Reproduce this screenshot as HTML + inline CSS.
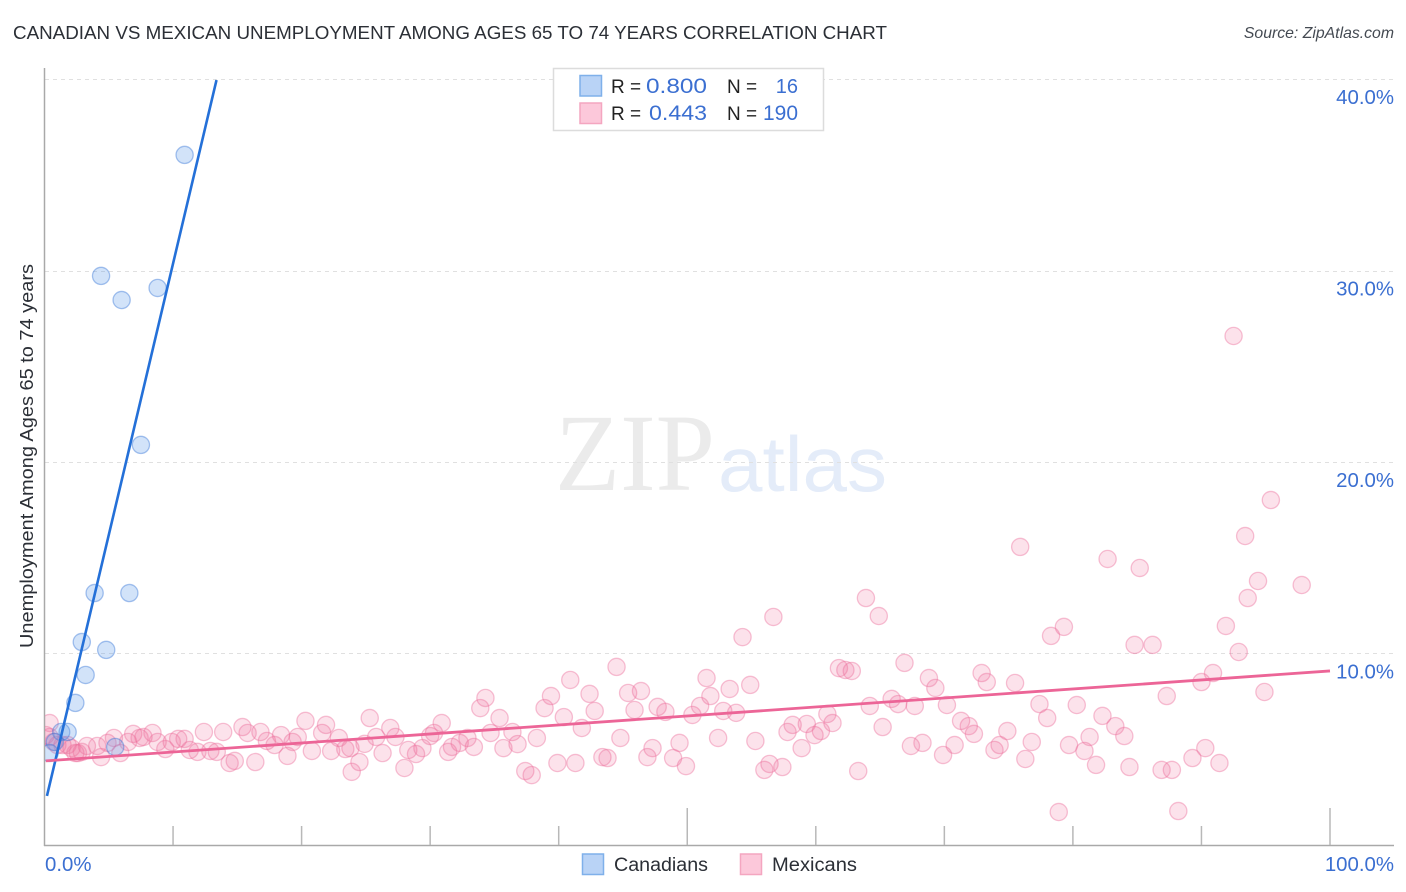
<!DOCTYPE html>
<html lang="en">
<head>
<meta charset="utf-8">
<title>Canadian vs Mexican Unemployment Correlation Chart</title>
<style>
  html, body { margin: 0; padding: 0; background: #fff; }
  #chart { display: block; width: 1406px; height: 892px; font-family: "Liberation Sans", sans-serif; }
  .blue-label { fill: #3b6fd1; }
</style>
</head>
<body>
<svg id="chart" xmlns="http://www.w3.org/2000/svg" width="1406" height="892" viewBox="0 0 1406 892">
  <defs>
    <clipPath id="plot-clip"><rect x="45" y="60" width="1349" height="786"/></clipPath>
  </defs>
  <rect x="0" y="0" width="1406" height="892" fill="#ffffff"/>
  <text x="13" y="39" font-size="18.6" fill="#2b2f36" textLength="874" lengthAdjust="spacingAndGlyphs">CANADIAN VS MEXICAN UNEMPLOYMENT AMONG AGES 65 TO 74 YEARS CORRELATION CHART</text>
  <text x="1394" y="38" font-size="15.8" font-style="italic" fill="#444a52" text-anchor="end">Source: ZipAtlas.com</text>

  <g>
    <text x="555" y="490" font-family="'Liberation Serif', serif" font-size="110" fill="#ebebeb" textLength="160" lengthAdjust="spacingAndGlyphs">ZIP</text>
    <text x="718" y="491" font-size="78" fill="#e4ecf9" textLength="169" lengthAdjust="spacingAndGlyphs">atlas</text>
  </g>

  <g id="grid"></g>
  <g id="axes"></g>
  <g clip-path="url(#plot-clip)">
    <g id="pink-points"></g>
    <g id="blue-points"></g>
  </g>
  <g id="trends"></g>
  <g id="tick-labels"></g>

  <text transform="translate(33,648) rotate(-90)" font-size="18.4" fill="#2b2f36" textLength="384" lengthAdjust="spacingAndGlyphs">Unemployment Among Ages 65 to 74 years</text>

  <g>
    <rect x="553.5" y="68.5" width="270" height="62" fill="#ffffff" stroke="#dcdcdc" stroke-width="1.5"/>
    <rect x="580" y="75.5" width="21.5" height="20.5" fill="#b9d3f6" stroke="#7fb0ea" stroke-width="1.5"/>
    <rect x="580" y="103" width="21.5" height="20.5" fill="#fcc8da" stroke="#f4a6c0" stroke-width="1.5"/>
    <text x="611" y="93" font-size="19" fill="#222">R =</text>
    <text class="blue-label" x="646" y="93" font-size="21" textLength="61" lengthAdjust="spacingAndGlyphs">0.800</text>
    <text x="727" y="93" font-size="19" fill="#222">N =</text>
    <text class="blue-label" x="798" y="93" font-size="20" text-anchor="end">16</text>
    <text x="611" y="120" font-size="19" fill="#222">R =</text>
    <text class="blue-label" x="649" y="120" font-size="21" textLength="58" lengthAdjust="spacingAndGlyphs">0.443</text>
    <text x="727" y="120" font-size="19" fill="#222">N =</text>
    <text class="blue-label" x="798" y="120" font-size="21" text-anchor="end" textLength="35" lengthAdjust="spacingAndGlyphs">190</text>
  </g>

  <g>
    <rect x="582.5" y="854" width="21" height="20.5" fill="#b9d3f6" stroke="#7fb0ea" stroke-width="1.5"/>
    <text x="614" y="871" font-size="19" fill="#2b2f36" textLength="94" lengthAdjust="spacingAndGlyphs">Canadians</text>
    <rect x="740.5" y="854" width="21" height="20.5" fill="#fcc8da" stroke="#f4a6c0" stroke-width="1.5"/>
    <text x="772" y="871" font-size="19" fill="#2b2f36" textLength="85" lengthAdjust="spacingAndGlyphs">Mexicans</text>
  </g>
</svg>

<script>
// ---- chart data (percent values) ----
const yTickValues = [10, 20, 30, 40];
const yTickLabels = ["10.0%", "20.0%", "30.0%", "40.0%"];
const xTickValues = [0, 10, 20, 30, 40, 50, 60, 70, 80, 90, 100];
const xMajorTicks = [50, 100];
const xEndLabels = ["0.0%", "100.0%"];

const canadiansX = [10.9, 4.4, 6.0, 8.8, 7.5, 3.9, 6.6, 2.9, 4.8, 3.2, 2.4, 1.3, 1.8, 0.8, 0.4, 5.5];
const canadiansY = [36.09, 29.77, 28.51, 29.14, 20.94, 13.20, 13.20, 10.64, 10.23, 8.92, 7.46, 5.94, 5.94, 5.42, 4.84, 5.16];

const mexicansX = [0.1,0.4,0.4,0.7,1.0,1.4,1.8,2.1,2.4,2.6,2.9,3.3,4.1,4.4,4.9,5.4,5.9,6.5,6.9,7.4,
  7.7,8.4,8.8,9.4,9.9,10.4,10.9,11.3,11.9,12.4,12.9,13.4,13.9,14.4,14.8,15.4,15.8,16.4,16.8,17.3,
  17.9,18.4,18.9,19.3,19.7,20.3,20.8,21.6,21.9,22.3,22.9,23.4,23.9,24.5,23.8,24.9,25.3,25.8,26.3,26.9,
  27.3,28.0,28.3,28.9,29.4,30.0,30.3,30.9,31.4,31.7,32.3,32.9,33.4,33.9,34.3,34.7,35.4,35.7,36.4,36.8,
  37.4,37.9,38.3,38.9,39.4,39.9,40.4,40.9,41.3,41.8,42.4,42.8,43.4,43.8,44.5,44.8,45.4,45.9,46.4,46.9,
  47.3,47.7,48.3,48.9,49.4,49.9,50.4,51.0,51.5,51.8,52.4,52.8,53.3,53.8,54.3,54.9,55.3,56.0,56.4,56.7,
  57.4,57.8,58.2,58.9,59.3,59.9,60.4,60.9,61.3,61.8,62.3,62.8,63.3,63.9,64.2,64.9,65.2,65.9,66.4,66.9,
  67.4,67.7,68.3,68.8,69.3,69.9,70.2,70.8,71.3,71.9,72.3,72.9,73.3,73.9,74.3,74.9,75.5,75.9,76.3,76.8,
  77.4,78.0,78.3,78.9,79.3,79.7,80.3,80.9,81.3,81.8,82.3,82.7,83.3,84.0,84.4,84.8,85.2,86.2,86.9,87.3,
  87.7,88.2,89.3,90.0,90.3,90.9,91.4,91.9,92.5,92.9,93.4,93.6,94.4,94.9,95.4,97.8];
const mexicansY = [5.78,6.41,5.68,5.42,5.26,5.26,5.26,5.10,4.84,4.84,4.90,5.21,5.21,4.63,5.37,5.63,4.84,5.42,5.84,5.63,
  5.68,5.89,5.42,5.05,5.42,5.58,5.58,5.00,4.90,5.94,4.95,4.90,5.94,4.32,4.43,6.20,5.89,4.37,5.94,5.47,
  5.26,5.78,4.69,5.42,5.68,6.52,4.95,5.89,6.31,4.95,5.63,5.05,3.86,4.37,5.10,5.32,6.67,5.68,4.84,6.15,
  5.68,4.06,5.00,4.79,5.10,5.73,5.89,6.41,4.90,5.16,5.37,5.63,5.16,7.19,7.72,5.89,6.67,5.10,5.94,5.31,
  3.90,3.69,5.63,7.19,7.82,4.32,6.72,8.66,4.32,6.15,7.93,7.04,4.63,4.58,9.34,5.63,7.98,7.09,8.08,4.63,
  5.10,7.25,6.99,4.58,5.37,4.16,6.83,7.30,8.76,7.82,5.63,7.04,8.19,6.94,10.90,8.40,5.47,3.96,4.27,11.95,
  4.11,5.94,6.31,5.10,6.36,5.78,5.99,6.88,6.41,9.28,9.18,9.13,3.90,12.94,7.30,12.00,6.20,7.67,7.40,9.55,
  5.21,7.30,5.37,8.76,8.24,4.74,7.35,5.26,6.52,6.25,5.84,9.02,8.55,5.00,5.26,5.99,8.50,15.61,4.53,5.42,
  7.40,6.67,10.96,1.76,11.43,5.26,7.35,4.95,5.68,4.22,6.78,14.98,6.25,5.73,4.11,10.49,14.51,10.49,3.96,7.82,
  3.96,1.81,4.58,8.55,5.10,9.02,4.32,11.48,26.63,10.12,16.18,12.94,13.83,8.03,18.06,13.62];

const canadiansTrendX = [0.19, 13.38];
const canadiansTrendY = [2.6, 40];
const mexicansTrendX = [0.1, 100];
const mexicansTrendY = [4.43, 9.13];

// ---- axis functions ----
const SVGNS = "http://www.w3.org/2000/svg";
const xScale = v => 44.5 + v * 12.855;
const yScale = v => 845.7 - v * 19.14;

function make(tag, parentId, attrs) {
  const el = document.createElementNS(SVGNS, tag);
  for (const k in attrs) el.setAttribute(k, attrs[k]);
  document.getElementById(parentId).appendChild(el);
  return el;
}

// gridlines + y tick labels
yTickValues.forEach((v, i) => {
  const y = Math.round(yScale(v)) + 0.5 - 1;
  const line = make("line", "grid", { x1: 45, x2: 1394, y1: y, y2: y, stroke: "#e0e0e0", "stroke-width": 1, "stroke-dasharray": "4 4" });
  
  
  const label = make("text", "tick-labels", { x: 1394, y: yScale(v) + 24, "font-size": 20.4, "text-anchor": "end", fill: "#3b6fd1" });
  label.textContent = yTickLabels[i];
  
  
});

// axis lines
const yAxis = make("line", "axes", { x1: 44.5, x2: 44.5, y1: 68, y2: 846, stroke: "#a9a9a9", "stroke-width": 1.5 });


const xAxis = make("line", "axes", { x1: 44, x2: 1394, y1: 845.5, y2: 845.5, stroke: "#a9a9a9", "stroke-width": 1.5 });



// x ticks
xTickValues.forEach(v => {
  if (v === 0) return;
  const x = xScale(v);
  const top = xMajorTicks.includes(v) ? 808 : 826;
  const tick = make("line", "axes", { x1: x, x2: x, y1: top, y2: 845, stroke: "#b8b8b8", "stroke-width": 1.5 });
  
  
});

// x end labels
const xLabelLeft = make("text", "tick-labels", { x: 45, y: 871, "font-size": 20.4, fill: "#3b6fd1" });
xLabelLeft.textContent = xEndLabels[0];


const xLabelRight = make("text", "tick-labels", { x: 1394, y: 871, "font-size": 20.4, "text-anchor": "end", fill: "#3b6fd1" });
xLabelRight.textContent = xEndLabels[1];



// points
mexicansX.forEach((v, i) => {
  const c = make("circle", "pink-points", { cx: xScale(v), cy: yScale(mexicansY[i]), r: 8.6, fill: "rgba(242,110,155,0.2)", stroke: "rgba(235,110,155,0.42)", "stroke-width": 1.3 });
  
  
});
canadiansX.forEach((v, i) => {
  const c = make("circle", "blue-points", { cx: xScale(v), cy: yScale(canadiansY[i]), r: 8.6, fill: "rgba(95,155,235,0.28)", stroke: "rgba(50,115,215,0.42)", "stroke-width": 1.3 });
  
  
});

// trend lines
const blueTrend = make("line", "trends", { x1: xScale(canadiansTrendX[0]), y1: yScale(canadiansTrendY[0]), x2: xScale(canadiansTrendX[1]), y2: yScale(canadiansTrendY[1]), stroke: "#2470d8", "stroke-width": 2.6 });


const pinkTrend = make("line", "trends", { x1: xScale(mexicansTrendX[0]), y1: yScale(mexicansTrendY[0]), x2: xScale(mexicansTrendX[1]), y2: yScale(mexicansTrendY[1]), stroke: "#ec6597", "stroke-width": 2.8 });


</script>
</body>
</html>
